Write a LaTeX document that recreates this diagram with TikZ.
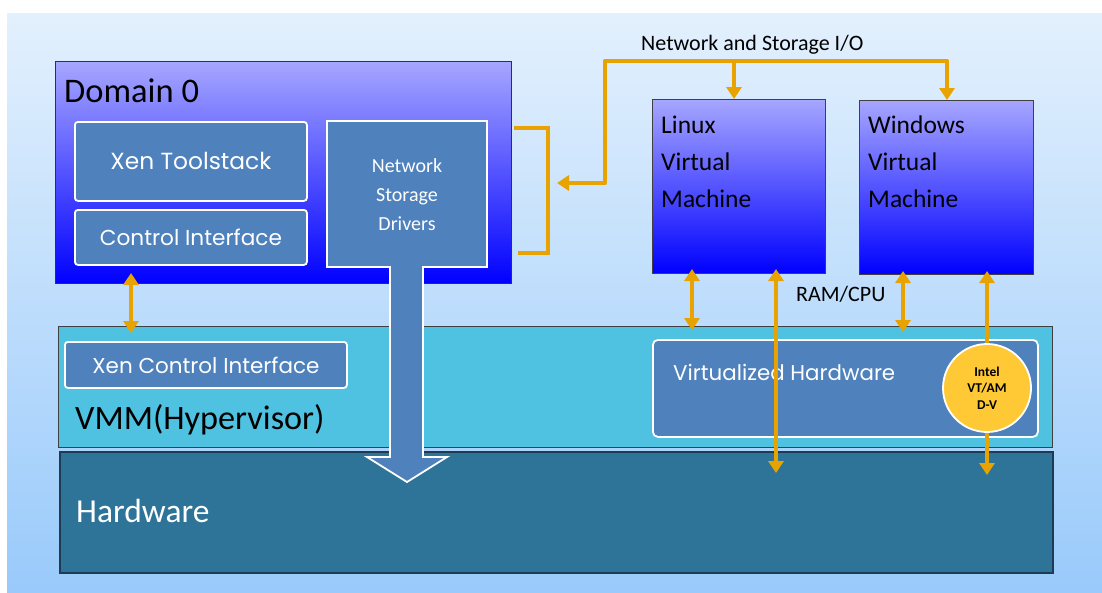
\documentclass[tikz,border=0pt]{standalone}
\usepackage{fontspec}
\usepackage{graphicx}
\newfontfamily\carlito{Carlito}
\newfontfamily\gothic{Poppins}
\usetikzlibrary{arrows.meta}
\definecolor{bgtop}{HTML}{E3F0FD}
\definecolor{bgbot}{HTML}{99CAFB}
\definecolor{domtop}{HTML}{A6A6FF}
\definecolor{dommid}{HTML}{8484FF}
\definecolor{dombot}{HTML}{0000FF}
\definecolor{innerblue}{HTML}{4F81BD}
\definecolor{vmmcol}{HTML}{4FC1E1}
\definecolor{hwcol}{HTML}{2E7499}
\definecolor{hwline}{HTML}{1D3B52}
\definecolor{orng}{HTML}{E9A300}
\definecolor{goldc}{HTML}{FFC936}
\newcommand\fitw[2]{\resizebox{#1}{!}{\gothic #2}}
\newcommand\clines[2]{\vtop{\baselineskip=#1\halign{\hfil##\hfil\cr#2\crcr}}}
\newcommand\llines[2]{\vtop{\baselineskip=#1\halign{##\hfil\cr#2\crcr}}}
\tikzset{
  tri/.tip={Triangle[width=15pt,length=12pt]},
  shadebox/.style={draw=black!80, line width=1pt, top color=domtop, middle color=dommid, bottom color=dombot, inner sep=0pt, anchor=north west},
  innerbox/.style={fill=innerblue, draw=white, line width=1.8pt, rounded corners=3pt, text=white, inner sep=0pt, anchor=north west},
  band/.style={inner sep=0pt, anchor=north west},
  lbl/.style={inner sep=0pt, anchor=base west},
  oline/.style={draw=orng, line width=4.8pt},
}
\begin{document}
\begin{tikzpicture}[x=1pt,y=-1pt]
\useasboundingbox (0,0) rectangle (1102,592);
\fill[white] (0,0) rectangle (1102,592);
\shade[top color=bgtop, bottom color=bgbot] (7,13) rectangle (1102,592);

% Domain 0
\node[shadebox, minimum width=456pt, minimum height=222pt] (dom) at (55,61) {};
\node[lbl, font=\carlito\fontsize{34.5}{38}\selectfont] (domlbl) at (64,102) {Domain 0};
\node[innerbox, minimum width=232pt, minimum height=79pt] (xts) at (74,121) {\fitw{161pt}{Xen Toolstack}};
\node[innerbox, minimum width=232pt, minimum height=55pt] (ci) at (74,209) {\fitw{182pt}{Control Interface}};

% Guest VMs
\node[shadebox, draw=black!75, line width=1.3pt, minimum width=173pt, minimum height=174pt] (linux) at (652,99) {};
\node[lbl, font=\carlito\fontsize{25.5}{30}\selectfont] (linuxlbl) at (661,133) {\llines{37pt}{Linux\cr Virtual\cr Machine}};
\node[shadebox, draw=black!75, line width=1.3pt, minimum width=174pt, minimum height=174pt] (win) at (859,100) {};
\node[lbl, font=\carlito\fontsize{25.5}{30}\selectfont] (winlbl) at (868,133) {\llines{37pt}{Windows\cr Virtual\cr Machine}};

% VMM band
\node[band, fill=vmmcol, draw=black!75, line width=1.2pt, minimum width=994pt, minimum height=121pt] (vmm) at (58,326) {};
\node[innerbox, minimum width=282pt, minimum height=46pt] (xci) at (64,341) {\fitw{227pt}{Xen Control Interface}};
\node[lbl, font=\carlito\fontsize{34.2}{38}\selectfont] (vmmlbl) at (75,429) {VMM(Hypervisor)};
\node[innerbox, rounded corners=5pt, minimum width=385pt, minimum height=97pt] (vh) at (652,339) {};
\node[lbl, text=white] (vhlbl) at (673,380) {\fitw{222pt}{Virtualized Hardware}};

% Hardware band
\node[band, fill=hwcol, draw=hwline, line width=1.6pt, minimum width=993pt, minimum height=121pt] (hw) at (59,451) {};
\node[lbl, text=white, font=\carlito\fontsize{33.5}{37}\selectfont] (hwlbl) at (76,522) {Hardware};

% Network / Storage drivers with down arrow
\draw[fill=innerblue, draw=white, line width=1.8pt, line join=miter]
  (327,121) -- (487,121) -- (487,267) -- (423,267) -- (423,457) -- (447,457)
  -- (407,482) -- (367,457) -- (390,457) -- (390,267) -- (327,267) -- cycle;
\node[inner sep=0pt, anchor=base, text=white, font=\carlito\fontsize{20}{24}\selectfont] (nsd) at (407,172) {\clines{29pt}{Network\cr Storage\cr Drivers}};

% connector end points
\coordinate (ciA) at (131,273);
\coordinate (ciB) at (131,333);
\coordinate (brA) at (514,128);
\coordinate (brB) at (548,128);
\coordinate (brC) at (548,253);
\coordinate (brD) at (518,253);
\coordinate (ioA) at (557,183);
\coordinate (ioB) at (605,61);
\coordinate (ioJ) at (734,61);
\coordinate (ioL) at (734,99);
\coordinate (ioW) at (947,100);
\coordinate (l1a) at (692,269);
\coordinate (l1b) at (692,330);
\coordinate (l2a) at (776,269);
\coordinate (l2b) at (776,473);
\coordinate (w1a) at (903,271);
\coordinate (w1b) at (903,332);
\coordinate (w2a) at (987,271);
\coordinate (w2b) at (987,475);

% orange connectors
\draw[oline, tri-tri] (ciA) -- (ciB);
\draw[oline] (brA) -- (brB) -- (brC) -- (brD);
\draw[oline, line join=round, tri-tri] (ioA) -| (ioB) -| (ioW);
\draw[oline, -tri] (ioJ) -- (ioL);
\draw[oline, tri-tri] (l1a) -- (l1b);
\draw[oline, tri-tri] (l2a) -- (l2b);
\draw[oline, tri-tri] (w1a) -- (w1b);
\draw[oline, tri-tri] (w2a) -- (w2b);

\node[lbl, font=\carlito\fontsize{22}{26}\selectfont] (iolbl) at (641,50) {Network and Storage I/O};
\node[lbl, font=\carlito\fontsize{22}{26}\selectfont] (ramlbl) at (796,301) {RAM/CPU};

% VT circle
\node[circle, fill=goldc, draw=white, line width=1.8pt, minimum size=88pt, inner sep=0pt, font=\carlito\bfseries\fontsize{13.5}{16}\selectfont] (vt) at (987,388) {\clines{16.5pt}{Intel\cr VT/AM\cr D-V}};
\end{tikzpicture}
\end{document}
